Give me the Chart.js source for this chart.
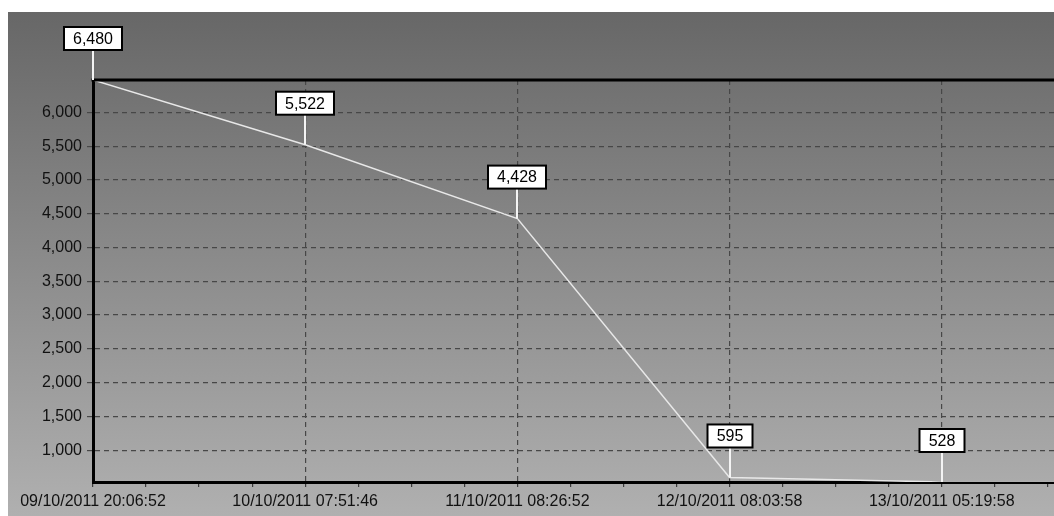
<!DOCTYPE html>
<html>
<head>
<meta charset="utf-8">
<script src="https://cdn.jsdelivr.net/npm/chart.js@4"></script>
<style>
  html, body { margin: 0; padding: 0; background: #fff; overflow: hidden; }
  #wrap { position: absolute; left: 0; top: 0; width: 1072px; height: 516px; }
</style>
</head>
<body>
<div id="wrap"><canvas id="c"></canvas></div>
<script>
// ---- data ----
const categories = [
  "09/10/2011 20:06:52",
  "10/10/2011 07:51:46",
  "11/10/2011 08:26:52",
  "12/10/2011 08:03:58",
  "13/10/2011 05:19:58"
];
const values = [6480, 5522, 4428, 595, 528];
// line continues flat past the right edge of the frame
const tailValue = 530;
const yTicks = [1000, 1500, 2000, 2500, 3000, 3500, 4000, 4500, 5000, 5500, 6000];
const minorPerCategory = 4;

const FONT = '"Liberation Sans", Arial, sans-serif';

const points = values.map((v, i) => ({ x: i, y: v }));
points.push({ x: values.length, y: tailValue });

const bgPlugin = {
  id: 'bg',
  beforeDraw(chart) {
    const { ctx, width, height } = chart;
    ctx.save();
    ctx.fillStyle = '#ffffff';
    ctx.fillRect(0, 0, width, height);
    const g = ctx.createLinearGradient(0, 12, 0, height);
    g.addColorStop(0, '#676767');
    g.addColorStop(1, '#b0b0b0');
    ctx.fillStyle = g;
    ctx.fillRect(8, 12, width - 8, height - 12);
    ctx.restore();
  }
};

const frameLabelPlugin = {
  id: 'frameLabels',
  afterDraw(chart) {
    const { ctx, chartArea } = chart;
    ctx.save();
    // top frame line
    ctx.strokeStyle = '#000';
    ctx.lineWidth = 3;
    ctx.beginPath();
    ctx.moveTo(chartArea.left - 1.5, chartArea.top);
    ctx.lineTo(chartArea.right, chartArea.top);
    ctx.stroke();

    // value callouts
    const meta = chart.getDatasetMeta(0);
    ctx.font = '16px ' + FONT;
    ctx.textAlign = 'center';
    ctx.textBaseline = 'middle';
    values.forEach((v, i) => {
      const el = meta.data[i];
      const x = Math.round(el.x), y = el.y;
      const lead = 30, h = 23;
      const txt = v.toLocaleString('en-US');
      const w = Math.round(ctx.measureText(txt).width) + 18;
      const boxBottom = y - lead;
      // leader
      ctx.strokeStyle = '#f4f4f4';
      ctx.lineWidth = 2;
      ctx.beginPath();
      ctx.moveTo(x, y);
      ctx.lineTo(x, boxBottom);
      ctx.stroke();
      // box
      ctx.fillStyle = '#ffffff';
      ctx.fillRect(x - w / 2, boxBottom - h, w, h);
      ctx.strokeStyle = '#000';
      ctx.lineWidth = 2;
      ctx.strokeRect(x - w / 2, boxBottom - h, w, h);
      ctx.fillStyle = '#000';
      ctx.fillText(txt, x, boxBottom - h / 2 + 1);
    });
    ctx.restore();
  }
};

new Chart(document.getElementById('c'), {
  type: 'line',
  data: {
    datasets: [{
      data: points,
      borderColor: '#e8e8e8',
      borderWidth: 1.5,
      pointRadius: 0,
      tension: 0,
      fill: false
    }]
  },
  options: {
    responsive: true,
    maintainAspectRatio: false,
    animation: false,
    layout: { padding: { left: 8, top: 80, right: 0, bottom: 0 } },
    plugins: { legend: { display: false }, tooltip: { enabled: false } },
    scales: {
      x: {
        type: 'linear',
        min: 0,
        max: 4.614,
        afterBuildTicks(scale) {
          const t = [];
          for (let i = 0; i <= categories.length * minorPerCategory - 2; i++) {
            t.push({ value: i / minorPerCategory });
          }
          scale.ticks = t;
        },
        afterFit(scale) { scale.height = 34; },
        ticks: {
          autoSkip: false,
          maxRotation: 0,
          padding: 5,
          color: '#111',
          font: { family: FONT, size: 16 },
          callback: (v) => Number.isInteger(v) ? (categories[v] || '') : ''
        },
        grid: {
          color: (c) => (c.tick && Number.isInteger(c.tick.value)) ? '#474747' : 'rgba(0,0,0,0)',
          lineWidth: 1.2,
          tickColor: '#3a3a3a',
          tickLength: 5,
          drawTicks: true
        },
        border: { display: true, color: '#000', width: 3, dash: [5, 4] }
      },
      y: {
        type: 'linear',
        min: Math.min(...values),
        max: Math.max(...values),
        afterBuildTicks(scale) { scale.ticks = yTicks.map(v => ({ value: v })); },
        afterFit(scale) { scale.width = 85; },
        ticks: {
          padding: 5,
          color: '#111',
          font: { family: FONT, size: 16 },
          callback: (v) => v.toLocaleString('en-US')
        },
        grid: {
          color: '#474747',
          lineWidth: 1.2,
          tickColor: '#474747',
          tickLength: 6
        },
        border: { display: true, color: '#000', width: 3, dash: [5, 4] }
      }
    }
  },
  plugins: [bgPlugin, frameLabelPlugin]
});
</script>
</body>
</html>
